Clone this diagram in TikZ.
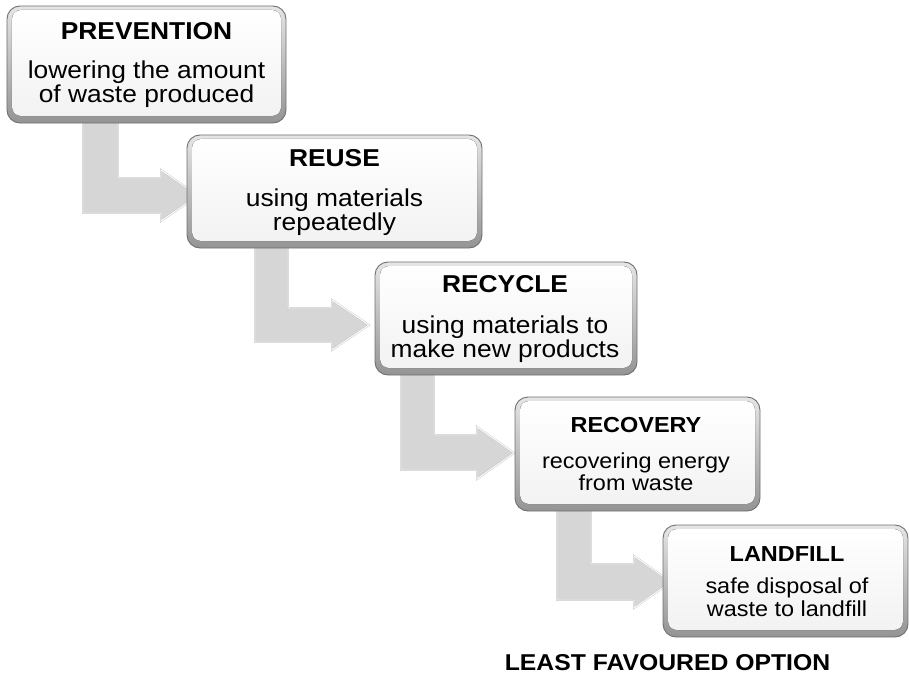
\documentclass[tikz,border=0pt]{standalone}
\usepackage{fontspec}
\setmainfont[FakeStretch=1.08]{Liberation Sans}
\usetikzlibrary{calc}
\definecolor{arrfill}{HTML}{D6D6D6}
\definecolor{arredge}{HTML}{C8C8C8}
\definecolor{boxedge}{HTML}{707070}
\tikzset{
  stepbox/.style={draw=boxedge, line width=0.9bp, rounded corners=13bp,
    top color=black!10, bottom color=black!42, inner sep=0pt, outer sep=0pt},
  boxface/.style={rounded corners=9bp, top color=white, bottom color=black!5},
  bigtitle/.style={anchor=base, inner sep=0pt, font=\fontsize{24.5}{24.5}\selectfont\bfseries},
  bigbody/.style={anchor=base, inner sep=0pt, font=\fontsize{24.5}{24.5}\selectfont},
  smalltitle/.style={anchor=base, inner sep=0pt, font=\fontsize{21.8}{21.8}\selectfont\bfseries},
  smallbody/.style={anchor=base, inner sep=0pt, font=\fontsize{21.8}{21.8}\selectfont},
  bentarrow/.style={fill=arrfill, draw=arredge, double=white, double distance=0.9bp,
    line width=0.5bp, line join=miter},
}
\newcommand\bentarr[9]{% sl sr st bt bb hb ht hbot ty
  \path[bentarrow] (#1,#3) -- (#2,#3) -- (#2,#4) -- (#6,#4) -- (#6,#7)
    -- ({#6+37},#9) -- (#6,#8) -- (#6,#5) -- (#1,#5) -- cycle;}
\newcommand\boxface[1]{%
  \fill[boxface] ($(#1.south west)+(5,-7)$) rectangle ($(#1.north east)+(-5,4)$);}
\begin{document}
\begin{tikzpicture}[x=1bp,y=-1bp]
\useasboundingbox (0,0) rectangle (909,677);
% bent arrows (behind boxes)
\bentarr{83}{118}{115}{178}{213}{161}{170}{221}{195.5}
\bentarr{255}{288}{240}{308}{342}{332}{300}{350}{325}
\bentarr{401}{434}{367}{435}{470}{477}{427}{479}{453}
\bentarr{557}{591}{503}{564}{600}{634}{556}{608}{582}
% boxes
\node[stepbox, minimum width=279bp, minimum height=117bp] (b1) at (146.5,64.5) {};
\boxface{b1}
\node[stepbox, minimum width=295bp, minimum height=113bp] (b2) at (334.5,191.5) {};
\boxface{b2}
\node[stepbox, minimum width=262bp, minimum height=113bp] (b3) at (506,318.5) {};
\boxface{b3}
\node[stepbox, minimum width=245bp, minimum height=114bp] (b4) at (637.5,454) {};
\boxface{b4}
\node[stepbox, minimum width=245bp, minimum height=112bp] (b5) at (785.5,581) {};
\boxface{b5}
% texts
\node[bigtitle] (t1) at (146.5,39.3) {PREVENTION};
\node[bigbody] (t1a) at (146.5,78.3) {lowering the amount};
\node[bigbody] (t1b) at (146.5,102.7) {of waste produced};
\node[bigtitle] (t2) at (334.5,166.7) {REUSE};
\node[bigbody] (t2a) at (334.5,206) {using materials};
\node[bigbody] (t2b) at (334.5,230) {repeatedly};
\node[bigtitle] (t3) at (505,292.7) {RECYCLE};
\node[bigbody] (t3a) at (505,333.3) {using materials to};
\node[bigbody] (t3b) at (505,357.3) {make new products};
\node[smalltitle] (t4) at (636,432.3) {RECOVERY};
\node[smallbody] (t4a) at (636,468) {recovering energy};
\node[smallbody] (t4b) at (636,490) {from waste};
\node[smalltitle] (t5) at (787,561.7) {LANDFILL};
\node[smallbody] (t5a) at (787,593.3) {safe disposal of};
\node[smallbody] (t5b) at (787,616.7) {waste to landfill};
\node[anchor=base, inner sep=0pt, font=\fontsize{23}{23}\selectfont\bfseries] (least) at (667.5,670) {LEAST FAVOURED OPTION};
\end{tikzpicture}
\end{document}
